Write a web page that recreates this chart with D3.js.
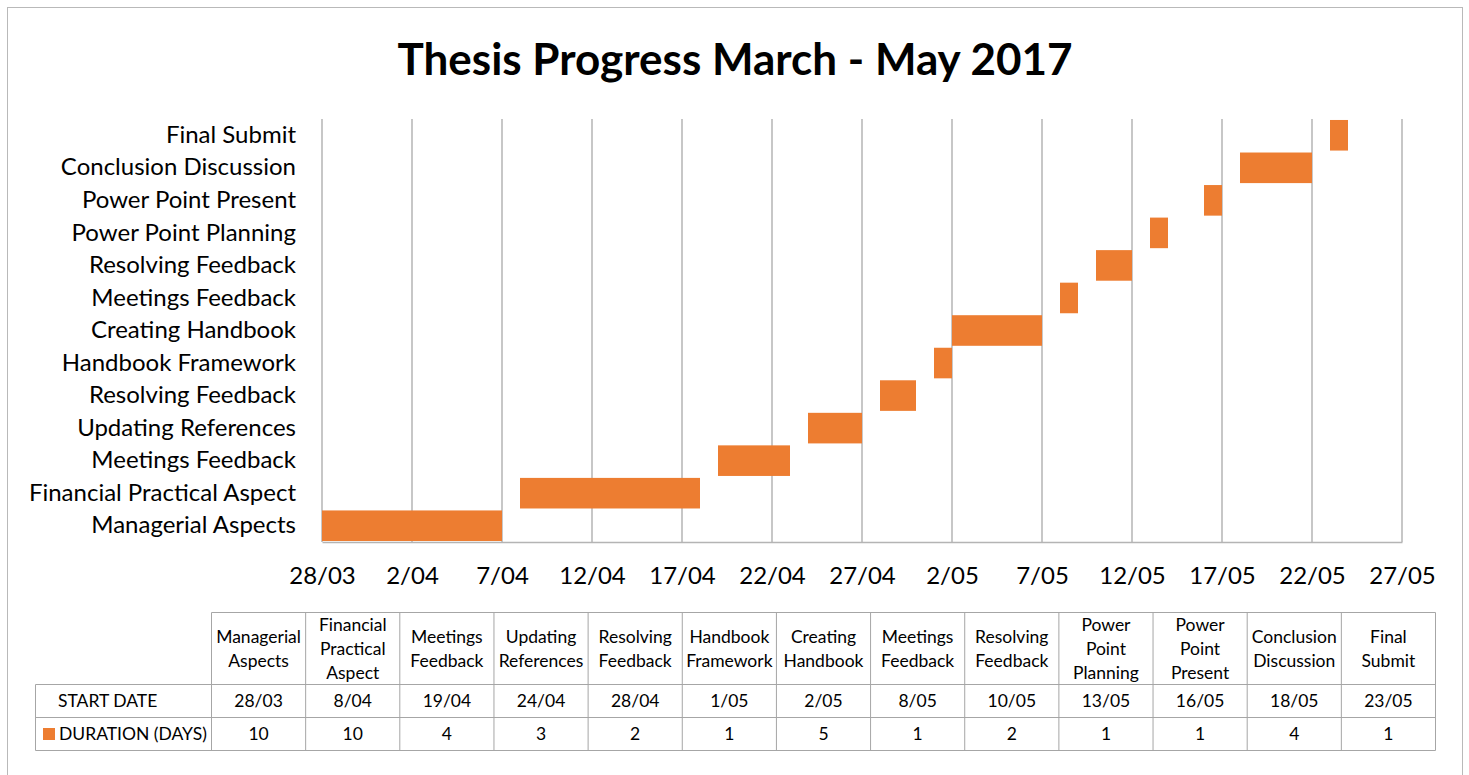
<!DOCTYPE html>
<html lang="en">
<head>
<meta charset="utf-8">
<title>Thesis Progress</title>
<script src="https://d3js.org/d3.v7.min.js"></script>
<style>
  body { margin: 0; background: #fff; }
  svg text { font-family: Lato, "Noto Sans", sans-serif; fill: #000; }
</style>
</head>
<body>
<svg id="chart"></svg>
<script>
// chart data
var tasks = ['Managerial Aspects', 'Financial Practical Aspect', 'Meetings Feedback', 'Updating References',
  'Resolving Feedback', 'Handbook Framework', 'Creating Handbook', 'Meetings Feedback', 'Resolving Feedback',
  'Power Point Planning', 'Power Point Present', 'Conclusion Discussion', 'Final Submit']
var startDates = ['28/03', '8/04', '19/04', '24/04', '28/04', '1/05', '2/05', '8/05', '10/05', '13/05', '16/05', '18/05', '23/05']
var durations = [10, 10, 4, 3, 2, 1, 5, 1, 2, 1, 1, 4, 1]
var tickLabels = ['28/03', '2/04', '7/04', '12/04', '17/04', '22/04', '27/04', '2/05', '7/05', '12/05', '17/05', '22/05', '27/05']

var W = 1469, H = 775
var orange = '#ED7D31'
var grid = '#b4b4b4'
var margin = {left: 322, right: 67, top: 119, bottom: 233}

var parse = function(s) {
  var p = s.split('/')
  return new Date(2017, +p[1] - 1, +p[0])
}
var dayMs = 86400000

var svg = d3.select('#chart').attr('width', W).attr('height', H)

// outer frame
svg.append('rect').attr('x', 7.5).attr('y', 7.5).attr('width', 1455).attr('height', 800)
  .attr('fill', 'none').attr('stroke', '#b9b9b9').attr('stroke-width', 1)

// title
svg.append('text').attr('x', 735).attr('y', 75).attr('text-anchor', 'middle')
  .style('font-size', '44px').style('font-weight', 'bold')
  .text('Thesis Progress March - May 2017')

var x = d3.scaleTime()
  .domain([parse(tickLabels[0]), parse(tickLabels[tickLabels.length - 1])])
  .range([margin.left, W - margin.right])

var y = d3.scaleBand()
  .domain(d3.range(tasks.length))
  .range([H - margin.bottom, margin.top])
  .paddingInner(0.06).paddingOuter(0.03)

var tickDates = tickLabels.map(parse)

// gridlines
svg.append('g').selectAll('line').data(tickDates).enter().append('line')
  .attr('x1', d => x(d) ).attr('x2', d => x(d))
  .attr('y1', margin.top).attr('y2', H - margin.bottom)
  .attr('stroke', grid).attr('stroke-width', 1.5)

// bars
svg.append('g').selectAll('rect').data(tasks).enter().append('rect')
  .attr('x', (d, i) => x(parse(startDates[i])))
  .attr('y', (d, i) => y(i))
  .attr('width', (d, i) => x(new Date(+parse(startDates[i]) + durations[i] * dayMs)) - x(parse(startDates[i])))
  .attr('height', y.bandwidth())
  .attr('fill', orange)

// x axis
var xAxis = d3.axisBottom(x).tickValues(tickDates).tickFormat(d3.timeFormat('%-d/%m')).tickSize(0).tickPadding(25)
var gx = svg.append('g').attr('transform', 'translate(0,' + (H - margin.bottom) + ')').call(xAxis)
gx.select('.domain').attr('stroke', grid).attr('stroke-width', 1.5)
gx.selectAll('text').style('font-size', '24px').attr('fill', '#000')

// y axis
var yAxis = d3.axisLeft(y).tickFormat(i => tasks[i]).tickSize(0).tickPadding(26)
var gy = svg.append('g').attr('transform', 'translate(' + margin.left + ',0)').call(yAxis)
gy.select('.domain').remove()
gy.selectAll('text').style('font-size', '24px').attr('fill', '#000')

// data table
var tblLeft = 35.5, colStart = 211.5, colEnd = 1435.5
var colW = (colEnd - colStart) / tasks.length
var rowY = [612.5, 684.5, 717.5, 750.5]
var tbl = svg.append('g').attr('stroke', '#a6a6a6').attr('stroke-width', 1)

// horizontal lines
tbl.append('line').attr('x1', colStart).attr('x2', colEnd).attr('y1', rowY[0]).attr('y2', rowY[0])
rowY.slice(1).forEach(function(yy) {
  tbl.append('line').attr('x1', tblLeft).attr('x2', colEnd).attr('y1', yy).attr('y2', yy)
})
// vertical lines
tbl.append('line').attr('x1', tblLeft).attr('x2', tblLeft).attr('y1', rowY[1]).attr('y2', rowY[3])
d3.range(tasks.length + 1).forEach(function(i) {
  var xx = colStart + i * colW
  tbl.append('line').attr('x1', xx).attr('x2', xx).attr('y1', rowY[0]).attr('y2', rowY[3])
})

var tt = svg.append('g').style('font-size', '17.5px')
tasks.forEach(function(t, i) {
  var cx = colStart + (i + 0.5) * colW
  var words = t.split(' ')
  var lh = 24
  var y0 = (rowY[0] + rowY[1]) / 2 - (words.length - 1) * lh / 2 + 6
  var txt = tt.append('text').attr('text-anchor', 'middle')
  words.forEach(function(w, k) {
    txt.append('tspan').attr('x', cx).attr('y', y0 + k * lh).text(w)
  })
  tt.append('text').attr('x', cx).attr('y', (rowY[1] + rowY[2]) / 2 + 6).attr('text-anchor', 'middle').text(startDates[i])
  tt.append('text').attr('x', cx).attr('y', (rowY[2] + rowY[3]) / 2 + 6).attr('text-anchor', 'middle').text(durations[i])
})
tt.append('text').attr('x', 58).attr('y', (rowY[1] + rowY[2]) / 2 + 6).text('START DATE')
svg.append('rect').attr('x', 43).attr('y', 728).attr('width', 12).attr('height', 12).attr('fill', orange)
tt.append('text').attr('x', 59).attr('y', (rowY[2] + rowY[3]) / 2 + 6).text('DURATION (DAYS)')
</script>
</body>
</html>
